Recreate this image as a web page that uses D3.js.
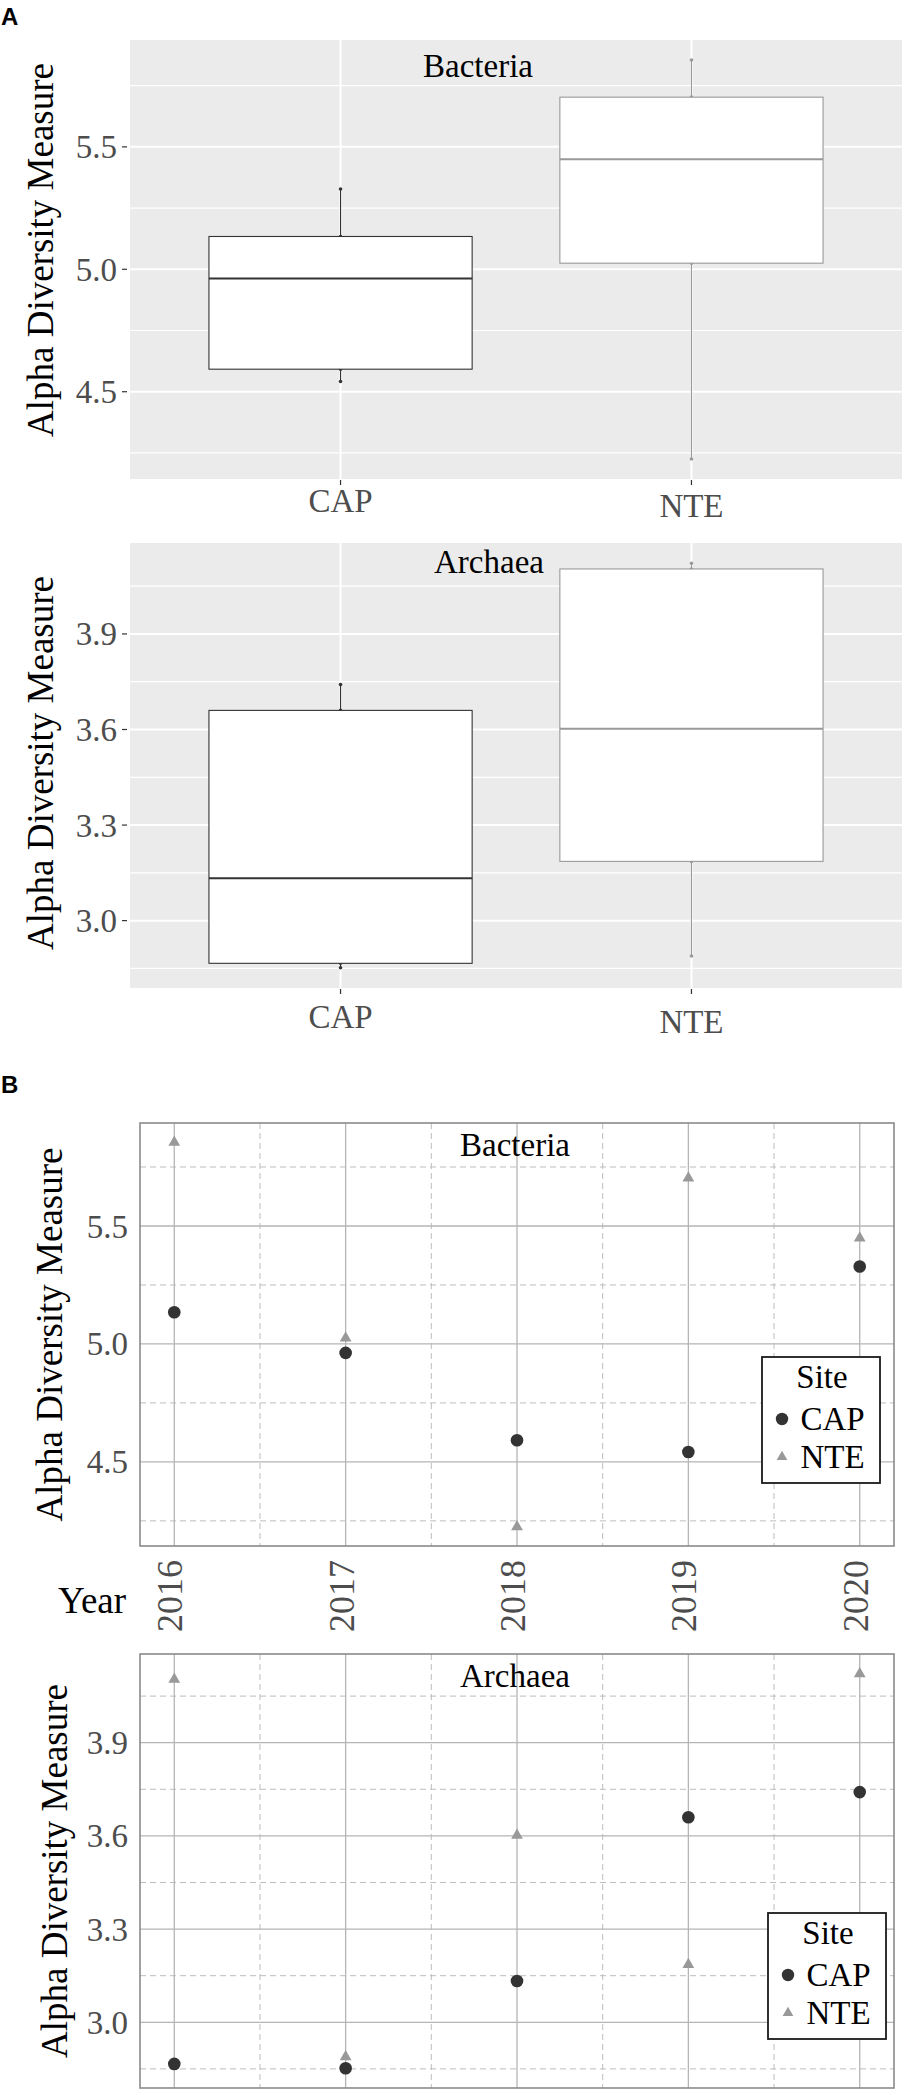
<!DOCTYPE html>
<html>
<head>
<meta charset="utf-8">
<script src="https://cdn.jsdelivr.net/npm/d3@7"></script>
<style>
  html, body { margin: 0; padding: 0; background: #fff; }
  svg { display: block; font-family: 'Liberation Serif', 'Times New Roman', serif; }
</style>
</head>
<body>
<svg id="chart"></svg>
<script>
// values
const years = [2016, 2017, 2018, 2019, 2020]
const sites = ['CAP', 'NTE']

const bacteriaCAP = [5.134, 4.962, 4.592, 4.542, 5.328]
const bacteriaNTE = [5.855, 5.025, 4.225, 5.703, 5.449]
const archaeaCAP = [2.866, 2.852, 3.133, 3.660, 3.741]
const archaeaNTE = [4.104, 2.889, 3.602, 3.186, 4.122]

const bacteriaTicks = [4.5, 5.0, 5.5]
const bacteriaMinor = [4.25, 4.75, 5.25, 5.75]
const archaeaTicks = [3.0, 3.3, 3.6, 3.9]
const archaeaMinor = [2.85, 3.15, 3.45, 3.75, 4.05]
const yearMinor = [2016.5, 2017.5, 2018.5, 2019.5]

const SITE_COLORS = { CAP: '#333333', NTE: '#999999' }
const TICK_GREY = '#4D4D4D'

const width = 906
const height = 2095

const svg = d3.select('#chart')
  .attr('width', width)
  .attr('height', height)
  .attr('viewBox', `0 0 ${width} ${height}`)

const fmt = d3.format('.1f')

// ggplot style 5% expansion of the data range
function expandedDomain(values) {
  const [lo, hi] = d3.extent(values)
  const pad = (hi - lo) * 0.05
  return [lo - pad, hi + pad]
}

function yLabel(x, y) {
  svg.append('text')
    .attr('transform', `translate(${x},${y}) rotate(-90)`)
    .attr('text-anchor', 'middle')
    .attr('font-size', '37px')
    .attr('fill', '#000')
    .text('Alpha Diversity Measure')
}

// ---------- panel A : box plots ----------
function boxPanel({ top, bottom, title, titleX, titleY, cap, nte, ticks, minor, labelY, xLabelY }) {
  const left = 130
  const right = 902

  const y = d3.scaleLinear()
    .domain(expandedDomain(cap.concat(nte)))
    .range([bottom, top])

  const x = d3.scalePoint()
    .domain(sites)
    .range([left, right])
    .padding(0.6)

  const boxW = x.step() * 0.75

  const g = svg.append('g')

  g.append('rect')
    .attr('x', left)
    .attr('y', top)
    .attr('width', right - left)
    .attr('height', bottom - top)
    .attr('fill', '#EBEBEB')

  g.append('g')
    .selectAll('line')
    .data(minor)
    .join('line')
    .attr('x1', left)
    .attr('x2', right)
    .attr('y1', d => y(d))
    .attr('y2', d => y(d))
    .attr('stroke', '#fff')
    .attr('stroke-width', 1.2)

  g.append('g')
    .selectAll('line')
    .data(ticks)
    .join('line')
    .attr('x1', left)
    .attr('x2', right)
    .attr('y1', d => y(d))
    .attr('y2', d => y(d))
    .attr('stroke', '#fff')
    .attr('stroke-width', 2)

  g.append('g')
    .selectAll('line')
    .data(sites)
    .join('line')
    .attr('x1', d => x(d))
    .attr('x2', d => x(d))
    .attr('y1', top)
    .attr('y2', bottom)
    .attr('stroke', '#fff')
    .attr('stroke-width', 2)

  // y axis
  const yAxis = g.append('g')
  yAxis.selectAll('line')
    .data(ticks)
    .join('line')
    .attr('x1', left - 8)
    .attr('x2', left - 3)
    .attr('y1', d => y(d))
    .attr('y2', d => y(d))
    .attr('stroke', '#333')
    .attr('stroke-width', 1.2)
  yAxis.selectAll('text')
    .data(ticks)
    .join('text')
    .attr('x', left - 13)
    .attr('y', d => y(d))
    .attr('dy', '0.35em')
    .attr('text-anchor', 'end')
    .attr('font-size', '33px')
    .attr('fill', TICK_GREY)
    .text(d => fmt(d))

  // x axis
  const xAxis = g.append('g')
  xAxis.selectAll('line')
    .data(sites)
    .join('line')
    .attr('x1', d => x(d))
    .attr('x2', d => x(d))
    .attr('y1', bottom + 1)
    .attr('y2', bottom + 6)
    .attr('stroke', '#333')
    .attr('stroke-width', 1.2)
  xAxis.selectAll('text')
    .data(sites)
    .join('text')
    .attr('x', d => x(d))
    .attr('y', (d, i) => xLabelY + i * 5)
    .attr('text-anchor', 'middle')
    .attr('font-size', '33px')
    .attr('fill', TICK_GREY)
    .text(d => d)

  const stats = sites.map((s, i) => {
    const vals = (i === 0 ? cap : nte).slice().sort(d3.ascending)
    return {
      site: s,
      vals,
      min: vals[0],
      q1: d3.quantile(vals, 0.25),
      med: d3.quantile(vals, 0.5),
      q3: d3.quantile(vals, 0.75),
      max: vals[vals.length - 1]
    }
  })

  const box = g.append('g')
    .selectAll('g')
    .data(stats)
    .join('g')

  box.append('line')
    .attr('x1', d => x(d.site))
    .attr('x2', d => x(d.site))
    .attr('y1', d => y(d.min))
    .attr('y2', d => y(d.max))
    .attr('stroke', d => SITE_COLORS[d.site])
    .attr('stroke-width', 1.1)

  box.selectAll('circle')
    .data(d => d.vals.map(v => ({ site: d.site, v })))
    .join('circle')
    .attr('cx', d => x(d.site))
    .attr('cy', d => y(d.v))
    .attr('r', 1.8)
    .attr('fill', d => SITE_COLORS[d.site])

  box.append('rect')
    .attr('x', d => x(d.site) - boxW / 2)
    .attr('y', d => y(d.q3))
    .attr('width', boxW)
    .attr('height', d => y(d.q1) - y(d.q3))
    .attr('fill', '#fff')
    .attr('stroke', d => SITE_COLORS[d.site])
    .attr('stroke-width', 1.1)

  box.append('line')
    .attr('x1', d => x(d.site) - boxW / 2)
    .attr('x2', d => x(d.site) + boxW / 2)
    .attr('y1', d => y(d.med))
    .attr('y2', d => y(d.med))
    .attr('stroke', d => SITE_COLORS[d.site])
    .attr('stroke-width', 2)

  g.append('text')
    .attr('x', titleX)
    .attr('y', titleY)
    .attr('text-anchor', 'middle')
    .attr('font-size', '33px')
    .attr('fill', '#000')
    .text(title)

  yLabel(53, labelY)
}

// ---------- panel B : points by year ----------
function pointPanel({ top, bottom, title, cap, nte, ticks, minor, labelX, legend, showYears }) {
  const left = 140
  const right = 894

  const y = d3.scaleLinear()
    .domain(expandedDomain(cap.concat(nte)))
    .range([bottom, top])

  const x = d3.scaleLinear()
    .domain(expandedDomain(years))
    .range([left, right])

  const g = svg.append('g')

  g.append('rect')
    .attr('x', left)
    .attr('y', top)
    .attr('width', right - left)
    .attr('height', bottom - top)
    .attr('fill', '#fff')

  g.append('g')
    .selectAll('line')
    .data(minor)
    .join('line')
    .attr('x1', left)
    .attr('x2', right)
    .attr('y1', d => y(d))
    .attr('y2', d => y(d))
    .attr('stroke', '#BDBDBD')
    .attr('stroke-width', 1)
    .attr('stroke-dasharray', '6,4')

  g.append('g')
    .selectAll('line')
    .data(yearMinor)
    .join('line')
    .attr('x1', d => x(d))
    .attr('x2', d => x(d))
    .attr('y1', top)
    .attr('y2', bottom)
    .attr('stroke', '#BDBDBD')
    .attr('stroke-width', 1)
    .attr('stroke-dasharray', '6,4')

  g.append('g')
    .selectAll('line')
    .data(ticks)
    .join('line')
    .attr('x1', left)
    .attr('x2', right)
    .attr('y1', d => y(d))
    .attr('y2', d => y(d))
    .attr('stroke', '#B5B5B5')
    .attr('stroke-width', 1.3)

  g.append('g')
    .selectAll('line')
    .data(years)
    .join('line')
    .attr('x1', d => x(d))
    .attr('x2', d => x(d))
    .attr('y1', top)
    .attr('y2', bottom)
    .attr('stroke', '#B5B5B5')
    .attr('stroke-width', 1.3)

  g.append('rect')
    .attr('x', left)
    .attr('y', top)
    .attr('width', right - left)
    .attr('height', bottom - top)
    .attr('fill', 'none')
    .attr('stroke', '#8A8A8A')
    .attr('stroke-width', 1.6)

  g.append('g')
    .selectAll('text')
    .data(ticks)
    .join('text')
    .attr('x', left - 12)
    .attr('y', d => y(d))
    .attr('dy', '0.35em')
    .attr('text-anchor', 'end')
    .attr('font-size', '33px')
    .attr('fill', TICK_GREY)
    .text(d => fmt(d))

  if (showYears) {
    g.append('g')
      .selectAll('text')
      .data(years)
      .join('text')
      .attr('transform', d => `translate(${x(d) + 8},${bottom + 14}) rotate(-90)`)
      .attr('text-anchor', 'end')
      .attr('font-size', '36px')
      .attr('fill', TICK_GREY)
      .text(d => d)

    g.append('text')
      .attr('x', 92)
      .attr('y', bottom + 67)
      .attr('text-anchor', 'middle')
      .attr('font-size', '37px')
      .attr('fill', '#000')
      .text('Year')
  }

  const pts = years.flatMap((yr, i) => [
    { site: 'CAP', year: yr, v: cap[i] },
    { site: 'NTE', year: yr, v: nte[i] }
  ])

  const triangle = d3.symbol().type(d3.symbolTriangle).size(60)

  g.append('g')
    .selectAll('path')
    .data(pts.filter(d => d.site === 'NTE'))
    .join('path')
    .attr('d', triangle)
    .attr('transform', d => `translate(${x(d.year)},${y(d.v)})`)
    .attr('fill', SITE_COLORS.NTE)

  g.append('g')
    .selectAll('circle')
    .data(pts.filter(d => d.site === 'CAP'))
    .join('circle')
    .attr('cx', d => x(d.year))
    .attr('cy', d => y(d.v))
    .attr('r', 6.3)
    .attr('fill', SITE_COLORS.CAP)

  g.append('text')
    .attr('x', 515)
    .attr('y', top + 33)
    .attr('text-anchor', 'middle')
    .attr('font-size', '33px')
    .attr('fill', '#000')
    .text(title)

  // legend
  const lg = g.append('g')
    .attr('transform', `translate(${legend.x},${legend.y})`)

  lg.append('rect')
    .attr('width', 118)
    .attr('height', 126)
    .attr('fill', '#fff')
    .attr('stroke', '#1a1a1a')
    .attr('stroke-width', 1.8)

  lg.append('text')
    .attr('x', 60)
    .attr('y', 31)
    .attr('text-anchor', 'middle')
    .attr('font-size', '33px')
    .attr('fill', '#000')
    .text('Site')

  const item = lg.selectAll('g.item')
    .data(sites)
    .join('g')
    .attr('class', 'item')
    .attr('transform', (d, i) => `translate(0,${62 + i * 38})`)

  item.filter(d => d === 'CAP')
    .append('circle')
    .attr('cx', 20)
    .attr('cy', 0)
    .attr('r', 6.2)
    .attr('fill', SITE_COLORS.CAP)

  item.filter(d => d === 'NTE')
    .append('path')
    .attr('d', d3.symbol().type(d3.symbolTriangle).size(50))
    .attr('transform', 'translate(20,0)')
    .attr('fill', SITE_COLORS.NTE)

  item.append('text')
    .attr('x', 38.5)
    .attr('y', 11)
    .attr('font-size', '33px')
    .attr('fill', '#000')
    .text(d => d)

  yLabel(labelX, (top + bottom) / 2)
}

// panel letters
const letters = [{ t: 'A', y: 25 }, { t: 'B', y: 1093 }]
svg.append('g')
  .selectAll('text')
  .data(letters)
  .join('text')
  .attr('x', 1)
  .attr('y', d => d.y)
  .style('font-family', "'Liberation Sans', Arial, sans-serif")
  .attr('font-weight', 'bold')
  .attr('font-size', '24px')
  .attr('fill', '#000')
  .text(d => d.t)

boxPanel({
  top: 40, bottom: 479,
  title: 'Bacteria', titleX: 478, titleY: 77,
  cap: bacteriaCAP, nte: bacteriaNTE,
  ticks: bacteriaTicks, minor: bacteriaMinor,
  labelY: 250, xLabelY: 512
})

boxPanel({
  top: 543, bottom: 988,
  title: 'Archaea', titleX: 489, titleY: 573,
  cap: archaeaCAP, nte: archaeaNTE,
  ticks: archaeaTicks, minor: archaeaMinor,
  labelY: 763, xLabelY: 1028
})

pointPanel({
  top: 1123, bottom: 1546,
  title: 'Bacteria',
  cap: bacteriaCAP, nte: bacteriaNTE,
  ticks: bacteriaTicks, minor: bacteriaMinor,
  labelX: 62, legend: { x: 762, y: 1357 }, showYears: true
})

pointPanel({
  top: 1654, bottom: 2088,
  title: 'Archaea',
  cap: archaeaCAP, nte: archaeaNTE,
  ticks: archaeaTicks, minor: archaeaMinor,
  labelX: 67, legend: { x: 768, y: 1913 }, showYears: false
})
</script>
</body>
</html>
